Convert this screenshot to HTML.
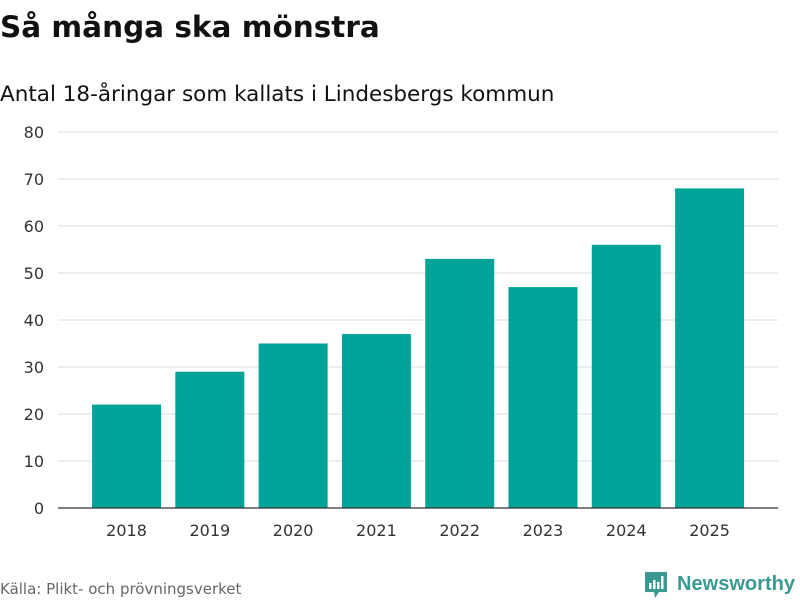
<!DOCTYPE html>
<html><head><meta charset="utf-8"><style>
body{margin:0;width:800px;height:600px;background:#fff;font-family:"DejaVu Sans","Liberation Sans",sans-serif;overflow:hidden}
</style></head><body>
<svg width="800" height="600" xmlns="http://www.w3.org/2000/svg">
<text x="0" y="37" font-size="29.5" font-weight="bold" fill="#111">Så många ska mönstra</text>
<text x="0" y="101" font-size="21.5" fill="#111">Antal 18-åringar som kallats i Lindesbergs kommun</text>
<g id="grid"></g><g id="bars"></g><g id="xlab"></g>
<line x1="58" x2="778" y1="508" y2="508" stroke="#333" stroke-width="1.3"/>
<text x="0" y="594" font-size="15" fill="#666">Källa: Plikt- och prövningsverket</text>
<g>
<path d="M645 572 h22 v20 h-8 l-4 6 l-1-6 h-9 z" fill="#3a9a92"/>
<rect x="649" y="583" width="2.5" height="6" fill="#fff"/><rect x="653" y="580" width="2.5" height="9" fill="#fff"/><rect x="657" y="582" width="2.5" height="7" fill="#fff"/><rect x="661" y="576" width="2.5" height="13" fill="#fff"/>
<text x="677" y="590" font-size="20" font-weight="bold" fill="#3a9a92" font-family="Liberation Sans, sans-serif" textLength="118" lengthAdjust="spacingAndGlyphs">Newsworthy</text>
</g>
</svg>
<script>
const categories=["2018","2019","2020","2021","2022","2023","2024","2025"];
const values=[22,29,35,37,53,47,56,68];
const yTicks=[0,10,20,30,40,50,60,70,80];
const NS="http://www.w3.org/2000/svg";
const y=v=>508-v*4.7;
const band=83.29, x0=84.9, bw=69;
const x=i=>x0+i*band+(band-bw)/2;
const g=document.getElementById('grid'),b=document.getElementById('bars'),xl=document.getElementById('xlab');
yTicks.forEach(t=>{
 if(t>0){const l=document.createElementNS(NS,'line');
 l.setAttribute('x1',58);l.setAttribute('x2',778);l.setAttribute('y1',y(t));l.setAttribute('y2',y(t));l.setAttribute('stroke','#ddd');
 
 
 g.appendChild(l);}
 const tx=document.createElementNS(NS,'text');
 tx.setAttribute('x',44);tx.setAttribute('y',y(t)+6);tx.setAttribute('text-anchor','end');tx.setAttribute('font-size','16');tx.setAttribute('fill','#333');tx.textContent=t;
 
 
 g.appendChild(tx);
});
categories.forEach((c,i)=>{
 const r=document.createElementNS(NS,'rect');
 r.setAttribute('x',x(i));r.setAttribute('width',bw);r.setAttribute('y',y(values[i]));r.setAttribute('height',508-y(values[i]));r.setAttribute('fill','#00a398');
 
 
 b.appendChild(r);
 const tx=document.createElementNS(NS,'text');
 tx.setAttribute('x',x(i)+bw/2);tx.setAttribute('y',536);tx.setAttribute('text-anchor','middle');tx.setAttribute('font-size','16');tx.setAttribute('fill','#333');tx.textContent=c;
 
 
 xl.appendChild(tx);
});
</script>
</body></html>
